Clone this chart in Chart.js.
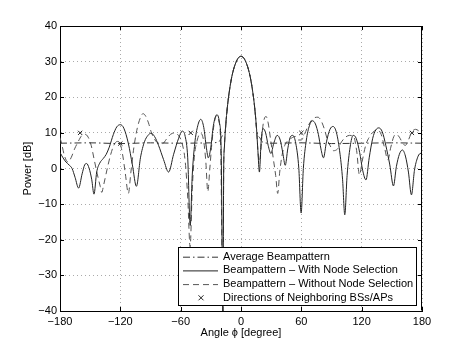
<!DOCTYPE html>
<html>
<head>
<meta charset="utf-8">
<script src="https://cdn.jsdelivr.net/npm/chart.js@4.4.1/dist/chart.umd.min.js"></script>
<style>
body{margin:0;background:#fff;}
#wrap{width:466px;height:350px;}
</style>
</head>
<body>
<div id="wrap"><canvas id="beamChart" width="466" height="350"></canvas></div>
<script>

// beampattern with node selection (solid)
const withAngles = [-180,-177,-174,-171,-168,-165,-161.5,-158,-155.5,-153.5,-151,-148.5,-146.2,-143.5,-140.5,-137,-134,-131,-127,-123.5,-120,-116.5,-112,-108,-104,-100,-96,-92.5,-89.5,-86,-82,-77,-72,-67,-62,-58.5,-55.5,-53,-50.5,-48.5,-46,-43,-40,-37,-34.5,-32.5,-30,-27.5,-24,-21.5,-19.7,-18,
-17.2,-16.5,-15.5,-14,-12.5,-10,-7.5,-5,-2.5,0,2.5,5,7.5,10,12.5,14,15.5,16.8,18.3,
20,22,24.5,27,29.8,32.5,36,39,41.5,44,46.5,49,51.5,54.5,57.5,59.8,62,65,68,71,74,77,79.5,82,85,88.5,91.5,95,98.5,101,103.2,105.5,108.5,111.5,114.5,118,121,124.3,127.5,131,134,137,140.5,144,148,151.6,154.5,157.5,160.5,163.5,166.5,169.5,172.5,175.5,178,180];
const withPower = [4.5,3,1.8,1,0,-2.5,-5.5,-1.5,1,1.4,0,-3,-7.2,-1,1.5,2.8,4,6,9.5,11.7,12.3,11.3,7,1,-5,3,7.5,9.3,9.9,9,6.5,2.5,-1,4,8.5,10.5,9,3,-16,-2,7,12,13.8,11.5,6,3,6,12,15.1,13,5,-40,
0,6,11,16,19.8,24.5,27.7,29.8,31.1,31.5,31.1,29.8,27.7,24.5,19.8,16,11,5,-1,
7.5,11.2,10,6.5,4.2,7,9.3,8,4.5,0.9,5.5,8.8,9.3,7,0,-12.5,0,8,12,13.4,12.5,9.5,5.5,3,7.5,11,11.8,10,4,-3,-13,-2,6,9.3,8.5,4.5,-0.5,-3.2,3,8.5,10.8,11.4,10.3,6.5,1,-4.9,0.5,4,5.2,3.5,-1,-7.4,-0.5,3,4.2,4.3];

// beampattern without node selection (dashed)
const withoutAngles = [-180,-178,-175.5,-172,-169,-165.5,-162,-158.5,-155,-152,-149,-146,-143,-140,-138.5,-136.5,-133,-130,-126.5,-123,-120,-117.5,-115,-112,-109.5,-106.5,-103,-100,-97.5,-95,-92,-89,-85.5,-81.5,-78,-74,-70,-66,-62,-58.5,-55.5,-53,-50.6,-48.5,-46.5,-43.5,-40,-37,-35,-33,-31,-29,-27,-24.5,-22,-20.2,-18,
-17.2,-16.5,-15.5,-14,-12.5,-10,-7.5,-5,-2.5,0,2.5,5,7.5,10,12.5,14,15.5,16.8,
18,19.5,21,23,25,27,29.5,32,34.5,36.5,38.5,41,43.5,46.5,50,54,57,60,63,66,70,73.5,76.5,79.5,83,86,88.5,92,96,100,104,108,112,115,117.8,120.5,124,128,132,136,139.5,143,146,149,152,154.5,157.5,161,163.5,166.5,170,173.5,177,180];
const withoutPower = [8.7,6.5,3.5,1.8,3,5.5,7.5,9.2,9.6,8.8,6.5,2.5,-1.5,-5,-6.7,-4.5,0,3.5,6.5,7.6,6.8,3.5,-1.5,-7,-1,6,11.5,14.3,15.4,14.8,12.8,10,8,7,7,8.3,9.6,10,9.2,7,2,-8,-22,-6,3,8,9.9,7.5,2,-6.5,0,7,12,14.8,13.3,6,-40,
0,6,11,16,19.8,24.5,27.7,29.8,31.1,31.5,31.1,29.8,27.7,24.5,19.8,16,11,5,
2,4,10,13.8,14.6,12.8,8,3,-2,-7,-1,4,6.5,7.8,8.5,9,8,8,9.5,11.5,13.5,14.3,14.4,13.5,11,8,6.5,5,5.5,7.5,8.8,9.3,9,5,-1.8,2,6.5,9,10.4,10.8,9.5,5.5,2.4,6,9,9.6,8.8,7,6.5,8,10.3,11,10.5,9.5];

// average beampattern (dash-dot)
const avgAngles = [-180,-150,-120,-90,-60,-30,-22,-19,-15.5,-14,-12.5,-10,-7.5,-5,-2.5,0,2.5,5,7.5,10,12.5,14,15.5,19,22,30,60,90,120,150,180];
const avgPower = [7.1,7.2,7,7.2,7.1,7.2,7.5,9,11,16,19.8,24.5,27.7,29.8,31.1,31.5,31.1,29.8,27.7,24.5,19.8,16,11,8.5,7.3,7.1,7.2,7,7.1,7.2,7.1];

// directions of neighbouring BSs/APs
const bsAngles = [-160,-120,-50,60,170];
const bsPower = [10,7,10,10,10];

const xTicks = [-180,-120,-60,0,60,120,180];
const yTicks = [-40,-30,-20,-10,0,10,20,30,40];

function pairs(xs,ys){
  let out = [];
  for(let i=0;i<xs.length;i++){
    out.push({x:xs[i],y:ys[i]});
  }
  return out;
}

const font = "'Liberation Sans', Arial, Helvetica, sans-serif";

// frame, inward ticks and legend box, MATLAB style
const framePlugin = {
  id:"frame",
  afterDraw(chart){
    const ctx = chart.ctx;
    const a = chart.chartArea;
    const xs = chart.scales.x;
    const ys = chart.scales.y;
    ctx.save();
    ctx.strokeStyle = "#000";
    ctx.lineWidth = 1;
    ctx.setLineDash([]);
    ctx.beginPath();
    ctx.moveTo(a.left+0.5,a.top+0.5);
    ctx.lineTo(a.right-0.5,a.top+0.5);
    ctx.lineTo(a.right-0.5,a.bottom-0.5);
    ctx.stroke();
    const tl = 4;
    ctx.beginPath();
    xTicks.forEach(function(v){
      const px = Math.round(xs.getPixelForValue(v))+0.5;
      ctx.moveTo(px,a.bottom); ctx.lineTo(px,a.bottom-tl);
      ctx.moveTo(px,a.top); ctx.lineTo(px,a.top+tl);
    });
    yTicks.forEach(function(v){
      const py = Math.round(ys.getPixelForValue(v))+0.5;
      ctx.moveTo(a.left,py); ctx.lineTo(a.left+tl,py);
      ctx.moveTo(a.right,py); ctx.lineTo(a.right-tl,py);
    });
    ctx.stroke();

    // legend
    const bx2 = a.right-5, by2 = a.bottom-5;
    const bx1 = bx2-239, by1 = by2-59;
    ctx.fillStyle = "#fff";
    ctx.fillRect(bx1,by1,bx2-bx1,by2-by1);
    ctx.strokeRect(bx1+0.5,by1+0.5,bx2-bx1-1,by2-by1-1);
    ctx.font = "11px "+font;
    ctx.textBaseline = "middle";
    chart.data.datasets.forEach(function(ds,i){
      const cy = by1+9.7+i*13.7;
      ctx.strokeStyle = ds.borderColor;
      ctx.lineWidth = 1;
      if(ds.showLine===false){
        const cx = bx1+23, r = 2.5;
        ctx.setLineDash([]);
        ctx.beginPath();
        ctx.moveTo(cx-r,cy-r); ctx.lineTo(cx+r,cy+r);
        ctx.moveTo(cx-r,cy+r); ctx.lineTo(cx+r,cy-r);
        ctx.stroke();
      }else{
        ctx.setLineDash(ds.borderDash || []);
        ctx.beginPath();
        ctx.moveTo(bx1+5,cy+0.5); ctx.lineTo(bx1+40,cy+0.5);
        ctx.stroke();
      }
      ctx.setLineDash([]);
      ctx.fillStyle = "#000";
      ctx.fillText(ds.label,bx1+45,cy);
    });
    ctx.restore();
  }
};

const ctx = document.getElementById("beamChart").getContext("2d");

const chart = new Chart(ctx,{
type:"line",
data:{
datasets:[{
label:"Average Beampattern",
data:pairs(avgAngles,avgPower),
borderColor:"#333",
borderDash:[7,3,1.5,3],
borderWidth:1,
pointRadius:0,
cubicInterpolationMode:"monotone"
},{
label:"Beampattern \u2013 With Node Selection",
data:pairs(withAngles,withPower),
borderColor:"#222",
borderWidth:1,
pointRadius:0,
cubicInterpolationMode:"monotone"
},{
label:"Beampattern \u2013 Without Node Selection",
data:pairs(withoutAngles,withoutPower),
borderColor:"#555",
borderDash:[6,4],
borderWidth:1,
pointRadius:0,
cubicInterpolationMode:"monotone"
},{
label:"Directions of Neighboring BSs/APs",
data:pairs(bsAngles,bsPower),
showLine:false,
borderColor:"#222",
backgroundColor:"#222",
borderWidth:1,
pointStyle:"crossRot",
pointRadius:3
}]
},
options:{
animation:false,
responsive:false,
events:[],
layout:{padding:{left:0,top:26,right:44,bottom:0}},
plugins:{legend:{display:false},tooltip:{enabled:false}},
scales:{
x:{
type:"linear",
min:-180,max:180,
afterFit:function(s){ s.height = 39; },
afterBuildTicks:function(s){ s.ticks = xTicks.map(function(v){ return {value:v}; }); },
ticks:{
color:"#000",padding:4,maxRotation:0,
font:{family:font,size:11},
callback:function(v){ return String(v).replace("-","\u2212"); }
},
grid:{color:"#aaa",lineWidth:1,drawTicks:false},
border:{display:true,color:"#000",width:1,dash:[1,3]},
title:{display:true,text:"Angle \u03d5 [degree]",color:"#000",font:{family:font,size:11},padding:{top:0,bottom:10}}
},
y:{
type:"linear",
min:-40,max:40,
afterFit:function(s){ s.width = 60; },
afterBuildTicks:function(s){ s.ticks = yTicks.map(function(v){ return {value:v}; }); },
ticks:{
color:"#000",padding:3,
font:{family:font,size:11},
callback:function(v){ return String(v).replace("-","\u2212"); }
},
grid:{color:"#aaa",lineWidth:1,drawTicks:false},
border:{display:true,color:"#000",width:1,dash:[1,3]},
title:{display:true,text:"Power [dB]",color:"#000",font:{family:font,size:11},padding:{top:21,bottom:0}}
}
}
},
plugins:[framePlugin]
});

</script>
</body>
</html>
